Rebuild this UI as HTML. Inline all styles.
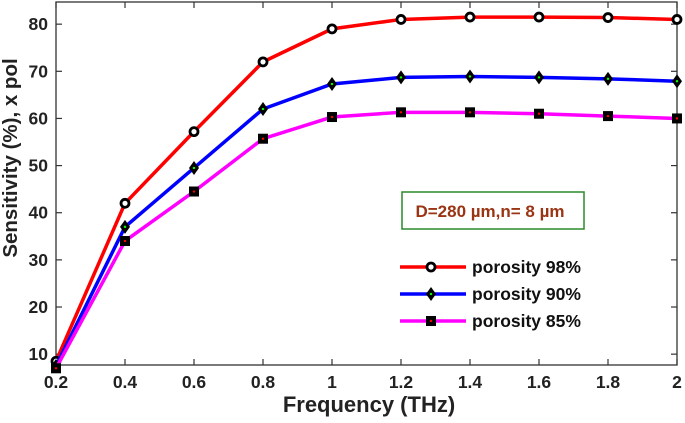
<!DOCTYPE html>
<html><head><meta charset="utf-8"><style>
body{margin:0;background:#fff;}
svg text{font-family:"Liberation Sans",Arial,sans-serif;font-weight:bold;}
</style></head><body>
<svg id="chart" width="685" height="418" viewBox="0 0 685 418" xmlns="http://www.w3.org/2000/svg">
<rect width="685" height="418" fill="#fff"/>
<g id="plot"></g>
</svg>
<script>
const categories=[0.2,0.4,0.6,0.8,1.0,1.2,1.4,1.6,1.8,2.0];
const xTickLabels=["0.2","0.4","0.6","0.8","1","1.2","1.4","1.6","1.8","2"];
const yTicks=[10,20,30,40,50,60,70,80];
const seriesNames=["porosity 98%","porosity 90%","porosity 85%"];
const p98=[8.5,42,57.2,72,79,81,81.5,81.5,81.4,81];
const p90=[7.5,37,49.5,62,67.3,68.7,68.9,68.7,68.4,67.9];
const p85=[7,34,44.5,55.7,60.3,61.3,61.3,61,60.5,60];
const NS="http://www.w3.org/2000/svg";
const L=56,R=677,T=2,B=365,ymin=7.7,ymax=84.7;
const xs=v=>L+(v-0.2)/1.8*(R-L);
const ys=v=>B-(v-ymin)/(ymax-ymin)*(B-T);
const g=document.getElementById('plot');
function mk(tag,at,parent){const e=document.createElementNS(NS,tag);for(const k in at)e.setAttribute(k,at[k]);(parent||g).appendChild(e);return e;}
let e=mk('rect',{x:L,y:T,width:R-L,height:B-T,fill:'none',stroke:'#333','stroke-width':1.3});


categories.forEach((c,i)=>{
  const x=xs(c);
  mk('line',{x1:x,x2:x,y1:B,y2:B-6,stroke:'#333','stroke-width':1.2});
  mk('line',{x1:x,x2:x,y1:T,y2:T+6,stroke:'#333','stroke-width':1.2});
  const t=mk('text',{x:x,y:B+23,'font-size':17.5,'text-anchor':'middle',fill:'#222'});
  t.textContent=xTickLabels[i];
  
  
});
yTicks.forEach(v=>{
  const y=ys(v);
  mk('line',{x1:L,x2:L+6,y1:y,y2:y,stroke:'#333','stroke-width':1.2});
  mk('line',{x1:R,x2:R-6,y1:y,y2:y,stroke:'#333','stroke-width':1.2});
  const t=mk('text',{x:L-8,y:y+6,'font-size':17.5,'text-anchor':'end',fill:'#222'});
  t.textContent=v;
  
  
});
let xt=mk('text',{x:369,y:412,'font-size':22,'text-anchor':'middle',fill:'#222'});
xt.textContent='Frequency (THz)';


let yt=mk('text',{x:17,y:158,'font-size':20.5,'text-anchor':'middle',fill:'#222',transform:'rotate(-90 17 158)'});
yt.textContent='Sensitivity (%), x pol';


const colors=['#ff0000','#0000ff','#ff00ff'];
const dataSets=[p98,p90,p85];
function marker(k,x,y,parent){
  if(k===0){mk('circle',{cx:x,cy:y,r:4,fill:'#fff',stroke:'#000','stroke-width':2.8},parent);}
  else if(k===1){mk('polygon',{points:`${x},${y-7} ${x+5},${y} ${x},${y+7} ${x-5},${y}`,fill:'#000'},parent);mk('circle',{cx:x,cy:y,r:1.2,fill:'#0f0'},parent);}
  else {mk('rect',{x:x-5,y:y-5,width:10,height:10,fill:'#000'},parent);mk('circle',{cx:x,cy:y,r:1.2,fill:'#f00'},parent);}
}
dataSets.forEach((d,k)=>{
  const sg=mk('g',{});
  
  
  mk('polyline',{points:d.map((v,i)=>xs(categories[i])+','+ys(v)).join(' '),fill:'none',stroke:colors[k],'stroke-width':3.5},sg);
  d.forEach((v,i)=>marker(k,xs(categories[i]),ys(v),sg));
});
const ag=mk('g',{});


mk('rect',{x:402,y:192,width:182,height:37,fill:'#fff',stroke:'#2a8a2a','stroke-width':1.5},ag);
const at=mk('text',{x:490,y:217,'font-size':17,'text-anchor':'middle',fill:'#9a3412'},ag);
at.textContent='D=280 µm,n= 8 µm';
seriesNames.forEach((n,k)=>{
  const lg=mk('g',{});
  
  
  const y=267+k*27;
  mk('line',{x1:400,x2:466,y1:y,y2:y,stroke:colors[k],'stroke-width':3.5},lg);
  marker(k,431,y,lg);
  const t=mk('text',{x:472,y:y+6,'font-size':17.5,fill:'#111'},lg);
  t.textContent=n;
});
</script>
</body></html>
